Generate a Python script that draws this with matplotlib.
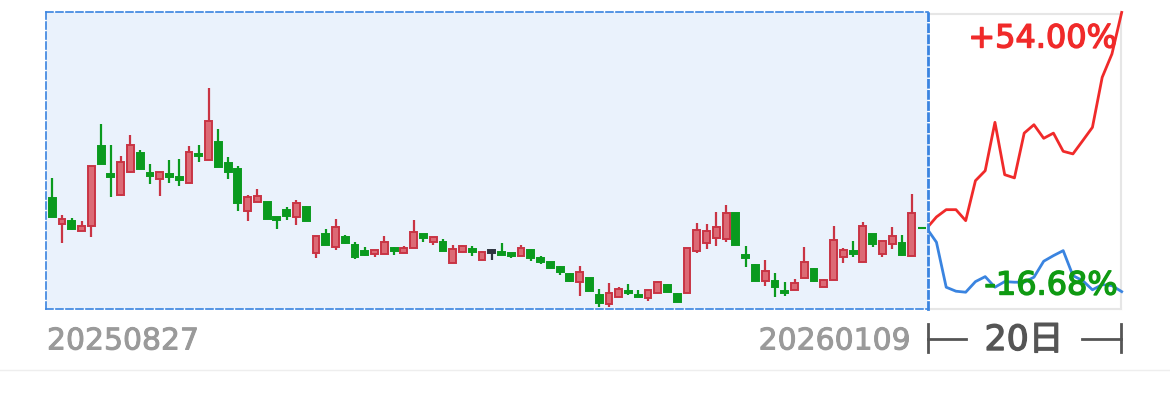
import matplotlib
matplotlib.use("Agg")
import matplotlib.pyplot as plt
import matplotlib.patheffects as pe
import numpy as np
from matplotlib.lines import Line2D

# daily candles, oldest first
opens = [10.76, 10.11, 10.18, 9.93, 10.06, 12.06, 11.36, 10.83, 11.41, 11.88,
         11.38, 11.23, 11.36, 11.26, 11.13, 11.83, 11.71, 12.16, 11.63, 11.48,
         10.43, 10.66, 10.66, 10.23, 10.46, 10.28, 10.53, 9.38, 9.86, 9.53,
         9.78, 9.58, 9.43, 9.36, 9.36, 9.51, 9.38, 9.51, 9.86, 9.66,
         9.66, 9.13, 9.41, 9.46, 9.21, 9.39, 9.41, 9.36, 9.31, 9.46,
         9.26, 9.16, 9.03, 8.86, 8.66, 8.76, 8.33, 8.11, 8.28, 8.43,
         8.31, 8.26, 8.38, 8.58, 8.36, 8.38, 9.43, 9.63, 9.76, 9.73,
         10.38, 9.33, 9.08, 8.68, 8.68, 8.43, 8.46, 8.76, 8.98, 8.53,
         8.71, 9.28, 9.41, 9.16, 9.86, 9.36, 9.61, 9.63, 9.31]
highs = [11.26, 10.33, 10.26, 10.18, 11.56, 12.61, 12.08, 11.81, 12.33, 11.96,
         11.61, 11.41, 11.71, 11.73, 12.06, 12.08, 13.51, 12.48, 11.78, 11.56,
         10.83, 10.98, 10.66, 10.28, 10.53, 10.71, 10.56, 9.81, 9.98, 10.23,
         9.83, 9.66, 9.53, 9.46, 9.81, 9.53, 9.56, 10.21, 9.86, 9.78,
         9.73, 9.58, 9.58, 9.56, 9.43, 9.48, 9.63, 9.38, 9.58, 9.48,
         9.31, 9.16, 9.06, 8.88, 9.06, 8.76, 8.48, 8.63, 8.53, 8.61,
         8.46, 8.46, 8.68, 8.61, 8.38, 9.51, 10.13, 10.11, 10.41, 10.58,
         10.38, 9.56, 9.11, 9.21, 8.88, 8.66, 8.73, 9.53, 9.01, 8.73,
         10.06, 9.51, 9.68, 10.16, 9.86, 9.68, 10.03, 9.83, 10.86]
lows = [10.28, 9.63, 9.96, 9.93, 9.78, 11.61, 10.78, 10.81, 11.38, 11.48,
        11.11, 10.81, 11.13, 11.06, 11.13, 11.66, 11.71, 11.53, 11.23, 10.43,
        10.18, 10.66, 10.23, 9.98, 10.21, 10.08, 10.18, 9.26, 9.58, 9.46,
        9.61, 9.23, 9.31, 9.28, 9.36, 9.33, 9.38, 9.51, 9.66, 9.58,
        9.43, 9.13, 9.41, 9.31, 9.21, 9.21, 9.33, 9.26, 9.31, 9.18,
        9.11, 9.01, 8.83, 8.66, 8.31, 8.43, 8.03, 8.03, 8.28, 8.33,
        8.28, 8.18, 8.38, 8.41, 8.16, 8.38, 9.38, 9.48, 9.56, 9.66,
        9.58, 9.03, 8.68, 8.56, 8.28, 8.31, 8.46, 8.76, 8.66, 8.53,
        8.71, 9.13, 9.28, 9.16, 9.53, 9.28, 9.48, 9.31, 9.31]
closes = [10.28, 10.23, 9.98, 10.06, 11.56, 11.61, 11.28, 11.66, 12.08, 11.48,
          11.31, 11.41, 11.28, 11.21, 11.91, 11.81, 12.68, 11.53, 11.41, 10.63,
          10.78, 10.81, 10.23, 10.21, 10.31, 10.63, 10.18, 9.81, 9.58, 10.03,
          9.63, 9.28, 9.33, 9.46, 9.66, 9.43, 9.51, 9.91, 9.76, 9.78,
          9.43, 9.48, 9.56, 9.41, 9.41, 9.39, 9.33, 9.31, 9.51, 9.26,
          9.16, 9.01, 8.91, 8.68, 8.91, 8.43, 8.13, 8.38, 8.48, 8.38,
          8.28, 8.46, 8.66, 8.41, 8.16, 9.51, 9.96, 9.93, 10.03, 10.38,
          9.58, 9.26, 8.68, 8.93, 8.53, 8.38, 8.63, 9.16, 8.68, 8.71,
          9.71, 9.46, 9.36, 10.06, 9.61, 9.68, 9.81, 9.33, 10.38]

start_date = "20250827"
end_date = "20260109"

# 20-day outlook, percent change from the base price
base_price = 10.0
up_pct = [0, 2.83, 4.65, 4.65, 1.9, 11.9, 14.4, 26.5, 13.4, 12.6, 23.8,
          25.9, 22.5, 23.8, 19.25, 18.6, 21.9, 25.25, 37.75, 43.6, 54.0]
down_pct = [0, -3.5, -14.75, -15.75, -16.0, -13.35, -12.1, -14.75, -13.35, -13.5,
            -13.5, -12.25, -8.25, -6.85, -5.6, -11.85, -13.1, -15.4, -14.1,
            -14.35, -15.85]
up_label = "+54.00%"
down_label = "-16.68%"
horizon_label = "20日"

RED = "#c93444"
RED_FILL = "#dc6a75"
GREEN = "#0a9a1e"
DOJI = "#2f3540"
BLUE = "#3a84e0"

plt.rcParams["lines.scale_dashes"] = False
W, H = 1170, 410
fig = plt.figure(figsize=(W / 100, H / 100), dpi=100)


def fx(px):
    return px / W


def fy(py):
    return 1 - py / H


def heavy(color, w=0.7):
    return [pe.withStroke(linewidth=w, foreground=color)]


ymin, ymax = 7.98, 15.41

# history panel
ax = fig.add_axes([fx(46), fy(310), fx(928) - fx(46), fy(13) - fy(310)])
ax.set_zorder(2)
ax.set_facecolor("#eaf2fc")
idx = np.arange(len(opens))
o, h, l, c = map(np.array, (opens, highs, lows, closes))
colors = np.where(c > o, RED, np.where(c < o, GREEN, DOJI))
ax.vlines(idx, l, h, colors=colors, linewidth=1.6, zorder=2)
bottoms = np.minimum(o, c)
heights = np.maximum(np.abs(c - o), 0.06)
faces = np.where(c > o, RED_FILL, colors)
ax.bar(idx, heights, bottom=bottoms, width=0.7, color=faces,
       edgecolor=colors, linewidth=1.4, zorder=3)
ax.hlines(base_price, 88.65, 89.47, color=GREEN, linewidth=1.5, zorder=3)
ax.set_xlim(-0.645, 89.67)
ax.set_ylim(ymin, ymax)
ax.set_xticks([])
ax.set_yticks([])
for name, sp in ax.spines.items():
    sp.set_color(BLUE)
    if name == "right":
        sp.set_linewidth(2.0)
        sp.set_linestyle((0, (5, 3)))
    else:
        sp.set_linewidth(1.2)
        sp.set_linestyle((0, (5, 2.2)))
    sp.set_zorder(5)

# forecast panel
ax2 = fig.add_axes([fx(928), fy(310), fx(1121) - fx(928), fy(15) - fy(310)])
ax2.set_zorder(1)
days = np.arange(len(up_pct))
ax2.plot(days, base_price * (1 + np.array(up_pct) / 100), color="#f02a2a",
         linewidth=2, clip_on=False, zorder=3)
ax2.plot(days, base_price * (1 + np.array(down_pct) / 100), color=BLUE,
         linewidth=2, clip_on=False, zorder=3)
ax2.set_xlim(0.133, 19.93)
ax2.set_ylim(ymin, 15.36)
ax2.set_xticks([])
ax2.set_yticks([])
for sp in ax2.spines.values():
    sp.set_color("#e6e6e6")
    sp.set_linewidth(1.5)
ax2.spines["left"].set_visible(False)

fig.text(fx(1117), fy(40), up_label, ha="right", va="center",
         fontsize=23, color="#f02a2a", zorder=4,
         path_effects=heavy("#f02a2a", 1.0))
fig.text(fx(1118), fy(287), down_label, ha="right", va="center",
         fontsize=23, color="#0f9a12", zorder=4,
         path_effects=heavy("#0f9a12", 1.0))

fig.text(fx(47), fy(342), start_date, ha="left", va="center",
         fontsize=21.5, color="#9a9a9a", path_effects=heavy("#9a9a9a"))
fig.text(fx(911), fy(342), end_date, ha="right", va="center",
         fontsize=21.5, color="#9a9a9a", path_effects=heavy("#9a9a9a"))
fig.text(fx(1024), fy(341), horizon_label, ha="center", va="center",
         fontsize=25, color="#555555",
         family=["DejaVu Sans", "Noto Sans CJK SC"],
         path_effects=heavy("#555555", 1.0))

bracket = dict(color="#555555", linewidth=2, transform=fig.transFigure)
for xs, ys in [((928, 966), (340, 340)), ((1082, 1121), (340, 340)),
               ((928, 928), (325, 353)), ((1121, 1121), (325, 353))]:
    fig.add_artist(Line2D([fx(v) for v in xs], [fy(v) for v in ys], **bracket))
fig.add_artist(Line2D([0, 1], [fy(371), fy(371)], color="#eeeeee",
                      linewidth=1, transform=fig.transFigure))

fig.savefig("out.png", dpi=100)
